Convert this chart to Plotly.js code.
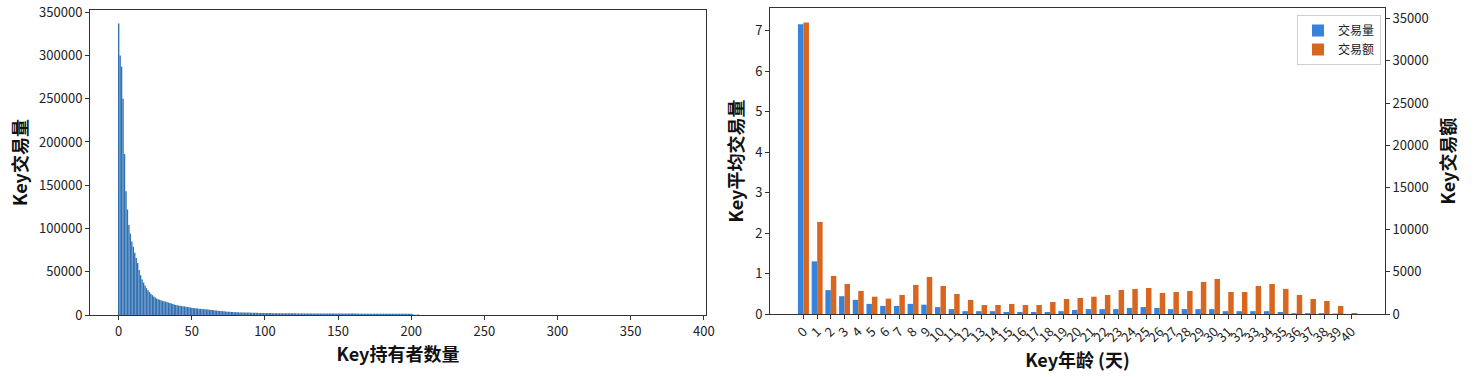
<!DOCTYPE html>
<html>
<head>
<meta charset="utf-8">
<script src="https://cdn.plot.ly/plotly-3.0.1.min.js"></script>
<style>html,body{margin:0;padding:0;background:#fff;}#chart{width:1482px;height:377px;}</style>
</head>
<body>
<div id="chart"></div>
<script>
// ---- Left chart: trades per Key by number of holders (index = holder count) ----
const keyTrades = [
  337000, 300000, 287000, 250000, 186000, 143000, 122000, 104000, 94000, 85000,
  79000, 72000, 66000, 60000, 52000, 46000, 41000, 37500, 34000, 31000,
  28500, 26500, 24500, 23000, 21500, 20200, 19200, 18300, 17600, 17000,
  16400, 15900, 15400, 14900, 14400, 14000, 13400, 12800, 12100, 11600,
  11200, 10900, 10600, 10300, 10100, 9900, 9600, 9300, 9000, 8700,
  8400, 8100, 7900, 7700, 7500, 7300, 7100, 6900, 6800, 6700,
  6500, 6300, 6100, 5900, 5700, 5500, 5300, 5100, 4900, 4700,
  4600, 4400, 4200, 4100, 3900, 3800, 3700, 3500, 3400, 3300,
  3200, 3100, 3050, 3000, 2950, 2900, 2850, 2800, 2800, 2750,
  2700, 2650, 2600, 2600, 2550, 2500, 2450, 2400, 2400, 2350,
  2300, 2250, 2250, 2200, 2200, 2150, 2150, 2100, 2100, 2100,
  2050, 2050, 2000, 2000, 2000, 1950, 1950, 1950, 1900, 1900,
  1900, 1900, 1850, 1850, 1850, 1850, 1800, 1800, 1800, 1800,
  1800, 1750, 1750, 1750, 1750, 1750, 1700, 1700, 1700, 1700,
  1700, 1700, 1700, 1650, 1650, 1650, 1650, 1650, 1650, 1650,
  1650, 1650, 1600, 1600, 1600, 1600, 1600, 1600, 1600, 1600,
  1600, 1600, 1600, 1600, 1550, 1550, 1550, 1550, 1550, 1550,
  1550, 1550, 1550, 1550, 1550, 1500, 1500, 1500, 1500, 1500,
  1500, 1500, 1500, 1500, 1500, 1500, 1500, 1500, 1500, 1500,
  1500, 1450, 1450, 1450, 1450, 1450, 1450, 1450, 1450, 1450,
  1400, 900, 300, 200, 250, 600
];
const leftXTicks = [0, 50, 100, 150, 200, 250, 300, 350, 400];
const leftYTicks = [0, 50000, 100000, 150000, 200000, 250000, 300000, 350000];

// ---- Right chart: Key age (days) ----
const ageDays = [0,1,2,3,4,5,6,7,8,9,10,11,12,13,14,15,16,17,18,19,20,
                 21,22,23,24,25,26,27,28,29,30,31,32,33,34,35,36,37,38,39,40];
const avgTradeCount = [7.16, 1.30, 0.59, 0.44, 0.35, 0.25, 0.20, 0.20, 0.25, 0.23, 0.17,
                       0.12, 0.07, 0.07, 0.07, 0.05, 0.05, 0.05, 0.05, 0.07, 0.10,
                       0.12, 0.12, 0.12, 0.15, 0.17, 0.15, 0.12, 0.12, 0.12, 0.12,
                       0.07, 0.07, 0.07, 0.07, 0.05, 0.02, 0.02, 0.02, 0.01, 0.0];
const tradeAmount = [34550, 10910, 4510, 3560, 2730, 2050, 1820, 2250, 3440, 4390, 3320,
                     2370, 1660, 1070, 1070, 1190, 1070, 1070, 1420, 1780, 1900,
                     2050, 2250, 2850, 2970, 3080, 2490, 2610, 2730, 3800, 4150,
                     2610, 2610, 3320, 3560, 2970, 2250, 1780, 1540, 950, 120];
const rightY1Ticks = [0, 1, 2, 3, 4, 5, 6, 7];
const rightY2Ticks = [0, 5000, 10000, 15000, 20000, 25000, 30000, 35000];
const seriesNames = ['交易量', '交易额'];

const FONT = '"Noto Sans CJK SC", "Noto Sans", sans-serif';
const tickFont = {family: FONT, size: 13, color: '#222'};
const titleFont = {family: FONT, size: 18, color: '#111', weight: 'bold'};

const axBase = {
  showline: true, linecolor: '#333', linewidth: 1, mirror: true,
  ticks: 'outside', ticklen: 4, tickcolor: '#333', tickwidth: 1,
  showgrid: false, zeroline: false, tickfont: tickFont, automargin: false
};

const traces = [
  {
    type: 'bar', x: keyTrades.map((_, i) => i), y: keyTrades,
    marker: {color: '#3171b2', line: {width: 0}},
    xaxis: 'x', yaxis: 'y', showlegend: false, width: 0.95
  },
  {
    type: 'bar', x: ageDays, y: avgTradeCount, name: seriesNames[0],
    marker: {color: '#3583dc', line: {width: 0}},
    width: 0.4, offset: -0.4, xaxis: 'x2', yaxis: 'y2'
  },
  {
    type: 'bar', x: ageDays, y: tradeAmount, name: seriesNames[1],
    marker: {color: '#d9661f', line: {width: 0}},
    width: 0.4, offset: 0, xaxis: 'x2', yaxis: 'y3'
  }
];

const layout = {
  width: 1482, height: 377,
  margin: {l: 0, r: 0, t: 0, b: 0},
  paper_bgcolor: '#fff', plot_bgcolor: '#fff',
  barmode: 'overlay',
  font: {family: FONT},
  xaxis: Object.assign({}, axBase, {
    domain: [90/1482, 706/1482], anchor: 'y',
    range: [-19.6, 401.5], tickvals: leftXTicks, ticktext: leftXTicks.map(String),
    title: {text: 'Key持有者数量', font: titleFont, standoff: 6}
  }),
  yaxis: Object.assign({}, axBase, {
    domain: [62/377, 367/377], anchor: 'x',
    range: [0, 352500], tickvals: leftYTicks, ticktext: leftYTicks.map(String),
    title: {text: 'Key交易量', font: titleFont, standoff: 6}
  }),
  xaxis2: Object.assign({}, axBase, {
    domain: [770/1482, 1385/1482], anchor: 'y2',
    range: [-2.44, 42.44], tickvals: ageDays, ticktext: ageDays.map(String),
    tickangle: -45,
    title: {text: 'Key年龄 (天)', font: titleFont, standoff: 4}
  }),
  yaxis2: Object.assign({}, axBase, {
    domain: [63/377, 369/377], anchor: 'x2',
    range: [0, 7.56], tickvals: rightY1Ticks, ticktext: rightY1Ticks.map(String),
    title: {text: 'Key平均交易量', font: titleFont, standoff: 6}
  }),
  yaxis3: Object.assign({}, axBase, {
    overlaying: 'y2', side: 'right', anchor: 'x2', mirror: false,
    range: [0, 36260], tickvals: rightY2Ticks, ticktext: rightY2Ticks.map(String),
    title: {text: 'Key交易额', font: titleFont, standoff: 14}
  }),
  legend: {
    x: 1381/1482, xanchor: 'right', y: 362/377, yanchor: 'top',
    bgcolor: '#fff', bordercolor: '#d0d0d0', borderwidth: 1,
    font: {family: FONT, size: 12, color: '#222'}
  }
};

Plotly.newPlot('chart', traces, layout, {displayModeBar: false, staticPlot: true});
</script>
</body>
</html>
